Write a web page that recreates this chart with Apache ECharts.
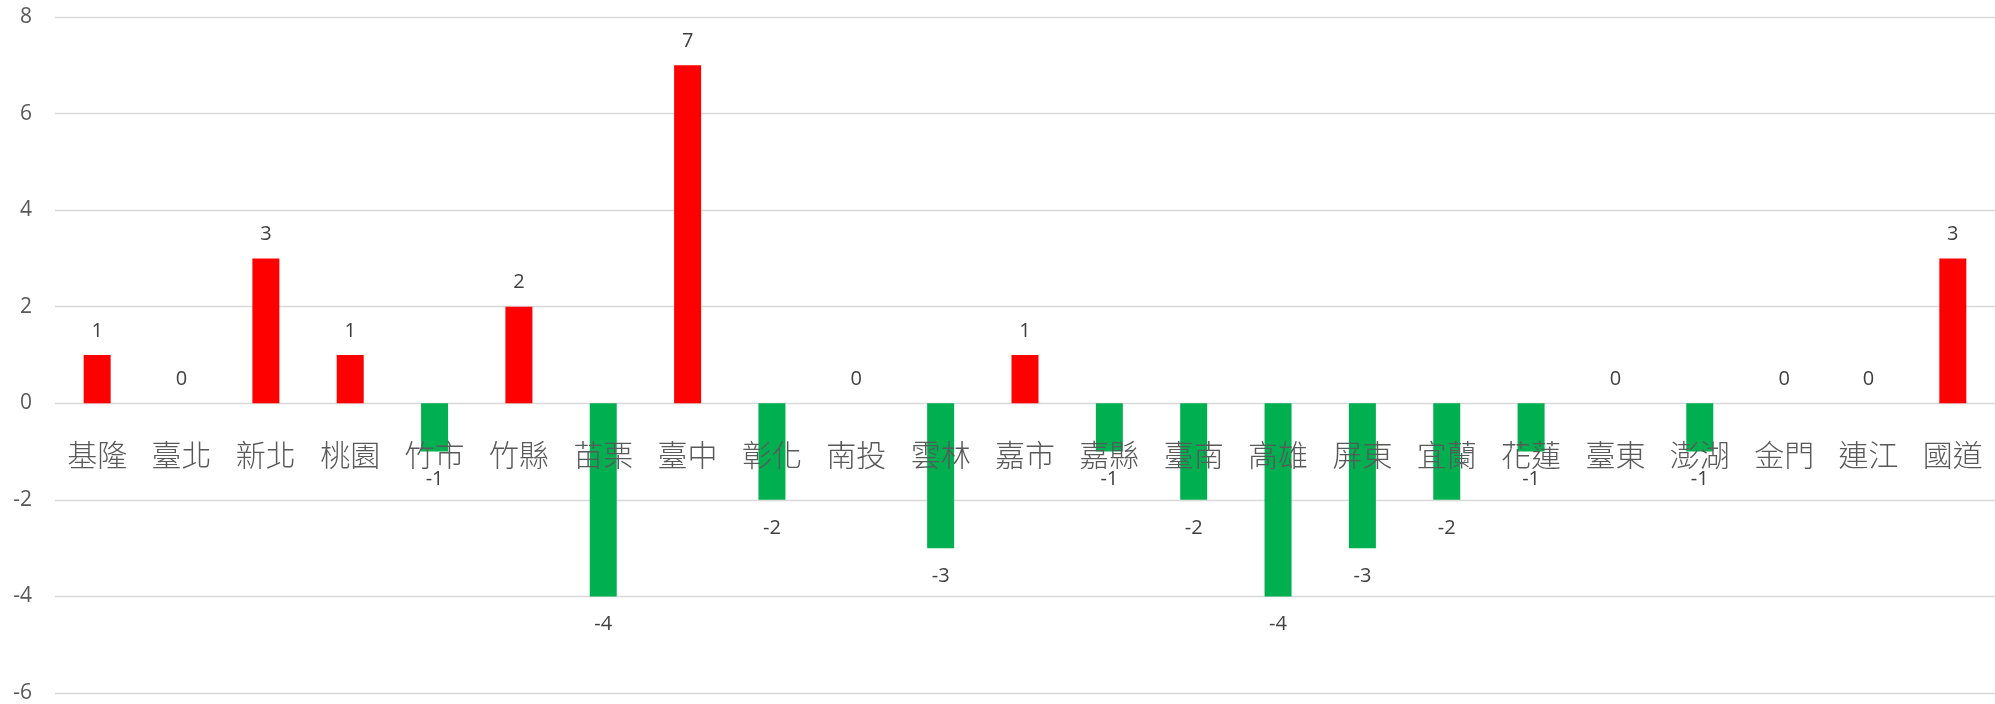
<!DOCTYPE html>
<html><head><meta charset="utf-8">
<script src="https://cdn.jsdelivr.net/npm/echarts@6/dist/echarts.min.js"></script>
<style>html,body{margin:0;padding:0;background:#fff}#c{width:1995px;height:704px}</style>
</head><body><div id="c"></div>
<script>
const categories = ['基隆','臺北','新北','桃園','竹市','竹縣','苗栗','臺中','彰化','南投','雲林','嘉市','嘉縣','臺南','高雄','屏東','宜蘭','花蓮','臺東','澎湖','金門','連江','國道'];
const values = [1,0,3,1,-1,2,-4,7,-2,0,-3,1,-1,-2,-4,-3,-2,-1,0,-1,0,0,3];
const yTicks = [-6,-4,-2,0,2,4,6,8];

const posColor = '#FF0000', negColor = '#00B050';
const data = values.map(v => ({
  value: v,
  itemStyle: { color: v >= 0 ? posColor : negColor },
  label: { position: v >= 0 ? 'top' : 'bottom', distance: v >= 0 ? 14 : 18 }
}));

const H = 704, gTop = 17, gBottom = 11;
const yMin = yTicks[0], yMax = yTicks[yTicks.length-1];
const plotH = H - gTop - gBottom;
const zeroFromBottom = plotH * (0 - yMin) / (yMax - yMin);

const chart = echarts.init(document.getElementById('c'), null, {renderer:'canvas'});
chart.setOption({
  animation: false,
  grid: { left: 55, right: 0, top: gTop, bottom: gBottom, containLabel: false, outerBoundsMode: 'none' },
  xAxis: {
    type: 'category', data: categories, z: 5, position: 'bottom', offset: -zeroFromBottom,
    axisLine: { show: false, onZero: false },
    axisTick: { show: false },
    axisLabel: { margin: 36, fontSize: 30, color: '#595959', fontFamily: 'Noto Sans CJK TC', fontWeight: 300, interval: 0, hideOverlap: false }
  },
  yAxis: {
    type: 'value', min: yMin, max: yMax, interval: 2,
    axisLine: { show: false }, axisTick: { show: false },
    axisLabel: { margin: 23, fontSize: 21, color: '#595959', fontFamily: 'Open Sans' },
    splitLine: { lineStyle: { color: '#D9D9D9', width: 1.3 } }
  },
  series: [{
    type: 'bar', data: data, barWidth: 27,
    label: { show: true, fontSize: 20, color: '#404040', fontFamily: 'Open Sans' }
  }]
});
</script></body></html>
